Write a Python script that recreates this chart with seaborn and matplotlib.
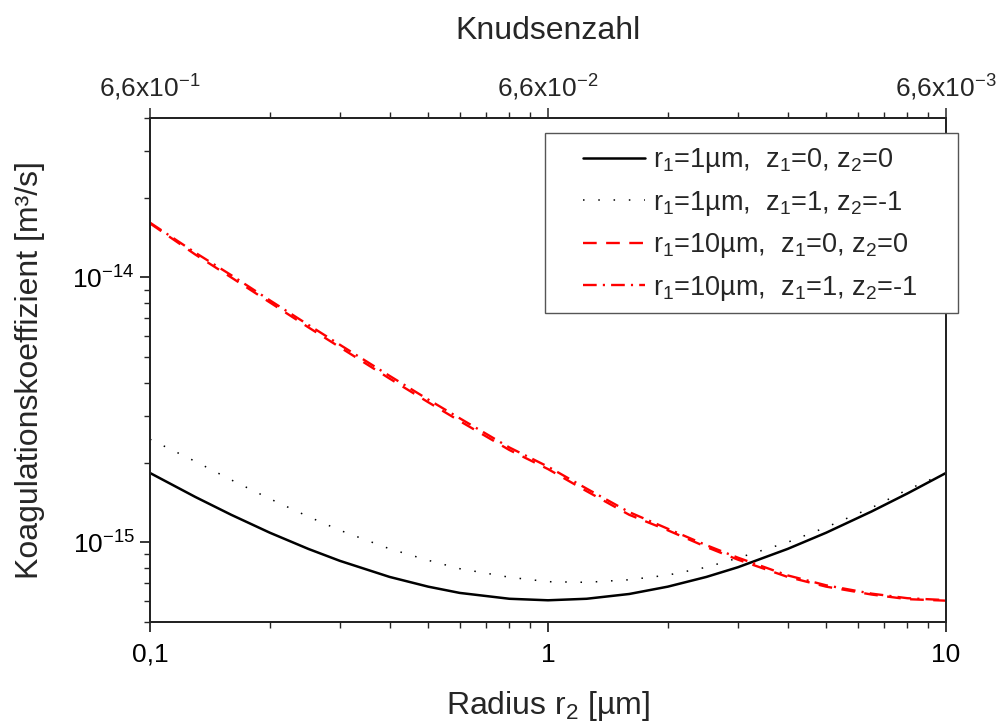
import numpy as np
import pandas as pd
import matplotlib
matplotlib.use("Agg")
import matplotlib.pyplot as plt
import seaborn as sns
from matplotlib.ticker import LogLocator, NullFormatter
from matplotlib.patches import Rectangle

# ---- data ----
radius_um = [0.1, 0.13, 0.16, 0.2, 0.25, 0.3, 0.4, 0.5, 0.6, 0.8, 1.0,
             1.25, 1.6, 2.0, 2.5, 3.0, 4.0, 5.0, 6.5, 8.0, 10.0]

k_r1_1_z0 = [1.827e-15, 1.483e-15, 1.270e-15, 1.087e-15, 9.44e-16, 8.51e-16,
             7.40e-16, 6.80e-16, 6.44e-16, 6.12e-16, 6.04e-16, 6.12e-16,
             6.38e-16, 6.80e-16, 7.40e-16, 8.05e-16, 9.44e-16, 1.087e-15,
             1.307e-15, 1.529e-15, 1.827e-15]

k_r1_1_z1 = [2.45e-15, 2.02e-15, 1.72e-15, 1.46e-15, 1.25e-15, 1.11e-15,
             9.45e-16, 8.55e-16, 7.95e-16, 7.38e-16, 7.10e-16, 7.06e-16,
             7.22e-16, 7.52e-16, 8.05e-16, 8.72e-16, 1.00e-15, 1.14e-15,
             1.35e-15, 1.58e-15, 1.83e-15]

k_r1_10_z0 = [1.60e-14, 1.22e-14, 1.00e-14, 8.05e-15, 6.48e-15, 5.45e-15,
              4.15e-15, 3.38e-15, 2.87e-15, 2.23e-15, 1.89e-15, 1.56e-15,
              1.27e-15, 1.11e-15, 9.60e-16, 8.60e-16, 7.40e-16, 6.80e-16,
              6.35e-16, 6.10e-16, 6.02e-16]

k_r1_10_z1 = [1.61e-14, 1.24e-14, 1.02e-14, 8.20e-15, 6.62e-15, 5.57e-15,
              4.25e-15, 3.46e-15, 2.94e-15, 2.28e-15, 1.93e-15, 1.595e-15,
              1.30e-15, 1.125e-15, 9.75e-16, 8.75e-16, 7.50e-16, 6.88e-16,
              6.40e-16, 6.15e-16, 6.05e-16]

series_labels = [r"r$_1$=1µm,  z$_1$=0, z$_2$=0",
                 r"r$_1$=1µm,  z$_1$=1, z$_2$=-1",
                 r"r$_1$=10µm,  z$_1$=0, z$_2$=0",
                 r"r$_1$=10µm,  z$_1$=1, z$_2$=-1"]

x_ticks = [0.1, 1, 10]
x_tick_labels = ["0,1", "1", "10"]
top_tick_labels = [r"6,6x10$^{-1}$", r"6,6x10$^{-2}$", r"6,6x10$^{-3}$"]
y_ticks = [1e-15, 1e-14]
y_tick_labels = [r"10$^{-15}$", r"10$^{-14}$"]

# ---- style ----
sns.set_style("ticks")
plt.rcParams["font.family"] = ["Liberation Sans", "DejaVu Sans"]
plt.rcParams["mathtext.fontset"] = "custom"
plt.rcParams["mathtext.rm"] = "Liberation Sans"
plt.rcParams["mathtext.it"] = "Liberation Sans"
plt.rcParams["mathtext.default"] = "regular"

fig = plt.figure(figsize=(10, 7.27), dpi=100)
ax = fig.add_axes([0.150, 0.1444, 0.796, 0.6933])

styles = [
    dict(color="black", lw=1.8, ls="-"),
    dict(color="black", lw=1.1, ls=(0, (1, 9))),
    dict(color="red", lw=1.7, ls=(0, (5.8, 4))),
    dict(color="red", lw=1.7, ls=(0, (5.8, 2.6, 0.9, 2.6))),
]
ys = [k_r1_1_z0, k_r1_1_z1, k_r1_10_z0, k_r1_10_z1]

for y, lab, st in zip(ys, series_labels, styles):
    df = pd.DataFrame({"r": radius_um, "k": y})
    sns.lineplot(data=df, x="r", y="k", ax=ax, color=st["color"], lw=st["lw"],
                 label=lab, sort=False, estimator=None)
    ax.lines[-1].set_linestyle(st["ls"])

ax.set_xscale("log")
ax.set_yscale("log")
ax.set_xlim(0.1, 10)
ax.set_ylim(5e-16, 4e-14)

ax.set_xticks(x_ticks)
ax.set_xticklabels(x_tick_labels)
ax.xaxis.set_minor_locator(LogLocator(base=10, subs=np.arange(2, 10)))
ax.xaxis.set_minor_formatter(NullFormatter())
ax.set_yticks(y_ticks)
ax.set_yticklabels(y_tick_labels)
ax.yaxis.set_minor_locator(LogLocator(base=10, subs=np.arange(2, 10), numticks=20))
ax.yaxis.set_minor_formatter(NullFormatter())

ax.tick_params(which="major", direction="out", length=7, width=1.1,
               labelsize=19, pad=4, right=False, colors="black")
ax.tick_params(which="minor", direction="out", length=4, width=1.0, right=False)
ax.tick_params(axis="x", which="major", pad=8)

for sp in ax.spines.values():
    sp.set_linewidth(1.3)
    sp.set_color("black")

ax.set_xlabel(r"Radius r$_2$ [µm]", fontsize=23, labelpad=16)
ax.set_ylabel(r"Koagulationskoeffizient [m³/s]", fontsize=23, labelpad=20)

# top axis (Knudsen number)
ax2 = ax.twiny()
ax2.set_xscale("log")
ax2.set_xlim(ax.get_xlim())
ax2.set_xticks(x_ticks)
ax2.set_xticklabels(top_tick_labels)
ax2.xaxis.set_minor_locator(LogLocator(base=10, subs=np.arange(2, 10)))
ax2.xaxis.set_minor_formatter(NullFormatter())
ax2.tick_params(which="major", direction="out", length=7, width=1.1,
                labelsize=19, pad=4)
ax2.tick_params(which="minor", direction="out", length=4, width=1.0)
ax2.set_xlabel("Knudsenzahl", fontsize=23, labelpad=24)
for sp in ax2.spines.values():
    sp.set_linewidth(1.3)

# legend frame (wider than the legend content, extends past the axes)
frame = Rectangle((0.545, 1 - 313 / 727), 0.413, 180 / 727,
                  transform=fig.transFigure, fill=True, facecolor="white",
                  edgecolor="#555555", lw=1.0, zorder=4, clip_on=False)
ax2.add_patch(frame)
leg = ax2.legend(*ax.get_legend_handles_labels(),
                 loc="upper left", bbox_to_anchor=(0.583, 1 - 146 / 727),
                 bbox_transform=fig.transFigure, borderaxespad=0,
                 fontsize=19.5, handlelength=2.3, frameon=False,
                 labelspacing=0.50, borderpad=0, handletextpad=0.3)
leg.set_zorder(6)
ax.get_legend().remove()

fig.savefig("out.png", dpi=100)
